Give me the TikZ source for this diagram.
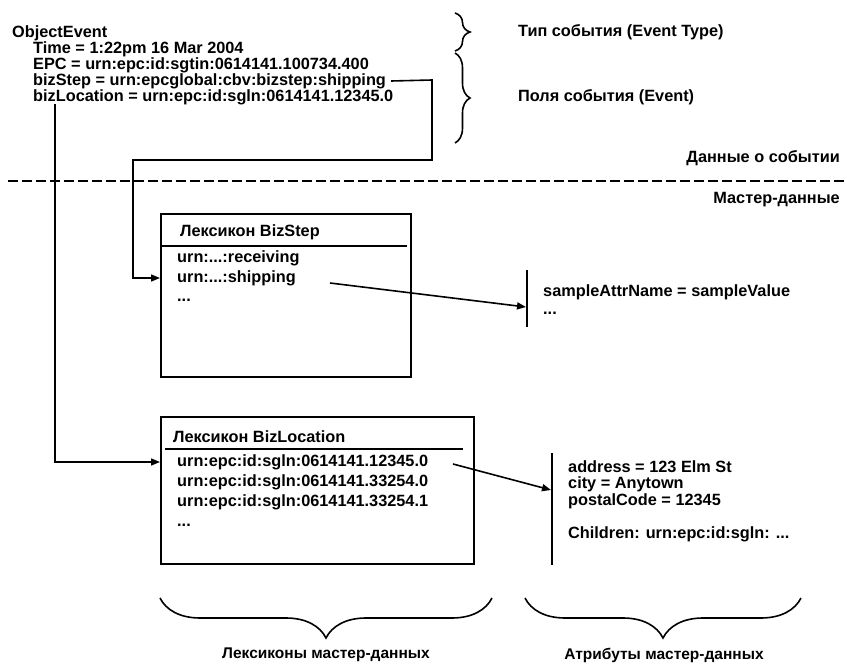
\documentclass[tikz,border=0pt]{standalone}
\usepackage{fontspec}
\setmainfont{Liberation Sans}
\usetikzlibrary{arrows.meta,decorations.pathreplacing}
\begin{document}
\begin{tikzpicture}[x=1pt,y=-1pt,
  txt/.style={font=\bfseries\fontsize{16.3}{18}\selectfont, inner sep=0pt, anchor=west},
  rowtxt/.style={font=\bfseries\fontsize{16.3}{18}\selectfont, inner sep=0pt, anchor=west},
  lbl/.style={font=\bfseries\fontsize{15.5}{17}\selectfont, inner sep=0pt},
  box/.style={draw, line width=2.2pt, inner sep=0pt},
  conn/.style={line width=1.6pt, -{Triangle[length=9pt,width=7pt]}},
  bar/.style={line width=1.8pt},
  bracedec/.style={decorate, line width=1.6pt}
]
\useasboundingbox (0,0) rectangle (847,664);

% event data
\node[txt] (oe) at (12,33) {ObjectEvent};
\node[txt] (time) at (33,49) {Time = 1:22pm 16 Mar 2004};
\node[txt] (epc) at (33,65) {EPC = urn:epc:id:sgtin:0614141.100734.400};
\node[txt] (bs) at (33,81) {bizStep = urn:epcglobal:cbv:bizstep:shipping};
\node[txt] (bl) at (33,97) {bizLocation = urn:epc:id:sgln:0614141.12345.0};

% right braces
\draw[bracedec, decoration={brace, amplitude=15pt}] (455,13) -- (455,51);
\draw[bracedec, decoration={brace, amplitude=15pt}] (455,53) -- (455,143);
\node[txt] (etype) at (518,32) {Тип события (Event Type)};
\node[txt] (efields) at (518,97) {Поля события (Event)};

% separator
\node[txt, anchor=east] (evdata) at (840,158) {Данные о событии};
\coordinate (dl) at (8,181);
\coordinate (dr) at (847,181);
\draw[line width=2.2pt, dash pattern=on 10pt off 4pt] (dl) -- (dr);
\node[txt, anchor=east] (master) at (840,200) {Мастер-данные};

% BizStep vocabulary
\node[box, minimum width=250pt, minimum height=163pt, anchor=north west] (bsbox) at (160,213) {};
\node[rowtxt] (bshead) at (180,232) {Лексикон BizStep};
\draw[line width=1.2pt] ([yshift=-33pt]bsbox.north west) -- ([yshift=-33pt,xshift=-5pt]bsbox.north east);
\node[rowtxt] (bsr1) at (177,258) {urn:...:receiving};
\node[rowtxt] (bsr2) at (177,278) {urn:...:shipping};
\node[rowtxt] (bsr3) at (177,300) {...};

% BizLocation vocabulary
\node[box, minimum width=313pt, minimum height=147pt, anchor=north west] (blbox) at (160,416) {};
\node[rowtxt] (blhead) at (173,437) {Лексикон BizLocation};
\draw[line width=1.2pt] ([yshift=-33pt,xshift=5pt]blbox.north west) -- ([yshift=-33pt,xshift=-12pt]blbox.north east);
\node[rowtxt] (blr1) at (177,462) {urn:epc:id:sgln:0614141.12345.0};
\node[rowtxt] (blr2) at (177,482) {urn:epc:id:sgln:0614141.33254.0};
\node[rowtxt] (blr3) at (177,502) {urn:epc:id:sgln:0614141.33254.1};
\node[rowtxt] (blr4) at (177,525) {...};

% connectors from event to vocabularies
\coordinate (c1) at (432,80);
\coordinate (c2) at (432,160);
\coordinate (c3) at (133,160);
\draw[conn] ([xshift=5pt]bs.east) -- (c1) -- (c2) -- (c3) |- (bsbox.west |- bsr2);
\coordinate (c4) at (55,104);
\draw[conn] (c4) |- (blbox.west |- blr1);

% attribute bars
\coordinate (b1t) at (527,270);
\coordinate (b1b) at (527,327);
\coordinate (b1a) at (526,307);
\draw[bar] (b1t) -- (b1b);
\node[txt] (sa) at (543,292) {sampleAttrName = sampleValue};
\node[txt] (sadots) at (543,313) {...};
\coordinate (s1) at (330,283);
\draw[conn] (s1) -- (b1a);

\coordinate (b2t) at (552,453);
\coordinate (b2b) at (552,565);
\coordinate (b2a) at (551,490);
\draw[bar] (b2t) -- (b2b);
\node[txt] (addr) at (568,467) {address = 123 Elm St};
\node[txt] (city) at (568,484) {city = Anytown};
\node[txt] (postal) at (568,501) {postalCode = 12345};
\node[txt] (child) at (568,534) {Children: urn:epc:id:sgln: ...};
\coordinate (s2) at (453,464);
\draw[conn] (s2) -- (b2a);

% bottom braces
\draw[bracedec, decoration={brace, mirror, amplitude=40pt}] (160,598) -- (492,598);
\draw[bracedec, decoration={brace, mirror, amplitude=40pt}] (525,598) -- (801,598);
\node[lbl] (lexlbl) at (326,655) {Лексиконы мастер-данных};
\node[lbl] (attrlbl) at (664,655) {Атрибуты мастер-данных};
\end{tikzpicture}
\end{document}
